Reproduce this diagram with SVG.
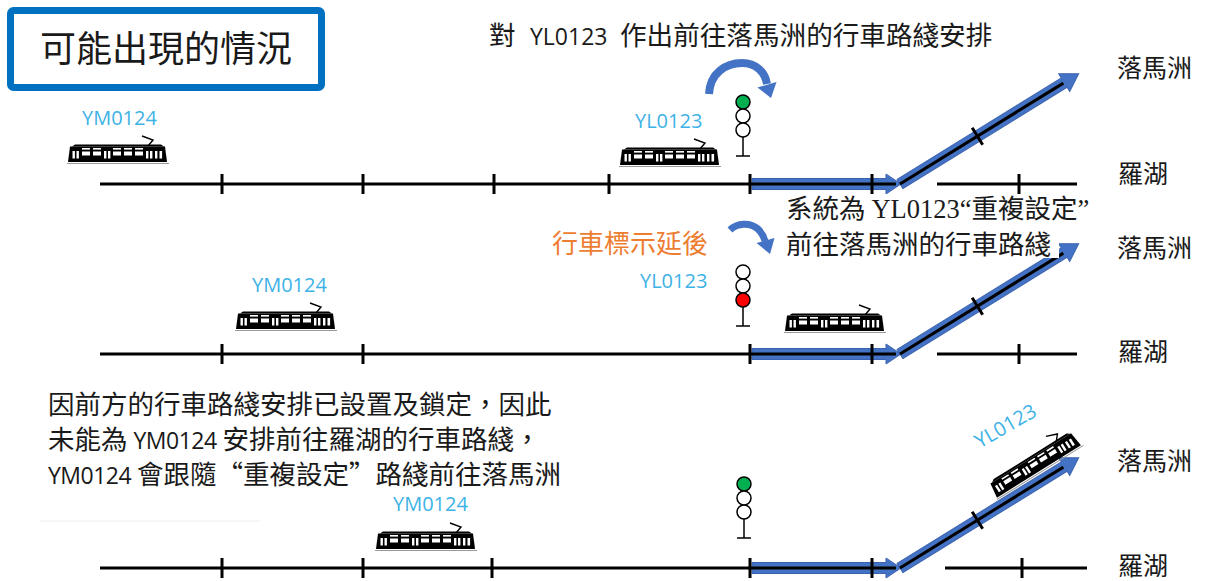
<svg xmlns="http://www.w3.org/2000/svg" width="1211" height="581" viewBox="0 0 1211 581">
<defs>
<style>
.cjk{font-family:"Noto Sans CJK TC","Noto Sans CJK SC",sans-serif;fill:#1a1a1a}
.lat{font-family:"Open Sans","Liberation Sans",sans-serif}
.ser{font-family:"Liberation Serif",serif}
.id{font-family:"Open Sans","Liberation Sans",sans-serif;font-size:20px;fill:#3DB2E6}
.place{font-family:"Noto Sans CJK TC","Noto Sans CJK SC",sans-serif;font-size:25px;fill:#1a1a1a}
.trk{stroke:#000;stroke-width:3;fill:none}
.route{fill:#4472C4;stroke:#3B64B0;stroke-width:1}
.bend{fill:#4472C4}
.sig circle{stroke:#000;stroke-width:1.5;fill:#fff}
.sig line{stroke:#000;stroke-width:1.5}
.win{fill:#fff}
</style>
<!-- tram silhouette, 102 x 30 -->
<g id="tram">
  <path d="M75,1 L86,5 L81,11" fill="none" stroke="#000" stroke-width="1.4"/>
  <path d="M8,9.5 H94 L97,11.5 H5 Z" fill="#000"/>
  <path d="M3,11.5 H98 L100,27 H1 Z" fill="#000"/>
  <g class="win">
    <!-- clerestory lights -->
    <rect x="15" y="13" width="8" height="1.6"/>
    <rect x="26" y="13" width="8" height="1.6"/>
    <rect x="46" y="13" width="8" height="1.6"/>
    <rect x="57" y="13" width="8" height="1.6"/>
    <rect x="68" y="13" width="8" height="1.6"/>
    <!-- doors and side windows -->
    <rect x="5.5" y="16" width="2.4" height="7.5"/>
    <rect x="9.5" y="16" width="2.4" height="7.5"/>
    <rect x="15" y="16.5" width="8" height="4"/>
    <rect x="26" y="16.5" width="8" height="4"/>
    <rect x="37" y="16" width="2.4" height="7.5"/>
    <rect x="41" y="16" width="2.4" height="7.5"/>
    <rect x="46" y="16.5" width="8" height="4"/>
    <rect x="57" y="16.5" width="8" height="4"/>
    <rect x="68" y="16.5" width="8" height="4"/>
    <rect x="79" y="16" width="2.4" height="7.5"/>
    <rect x="83" y="16" width="2.4" height="7.5"/>
    <rect x="88" y="16" width="2.4" height="7.5"/>
    <rect x="92.5" y="16" width="2.6" height="7.5"/>
  </g>
  <line x1="0" y1="28.5" x2="102" y2="28.5" stroke="#999" stroke-width="1"/>
</g>
<!-- set route: blue band along the straight and the turnout towards 落馬洲 -->
<g id="setRoute">
  <path class="route" d="M752,178.5 H886 V174 L901,184 L886,194 V189.5 H752 Z"/>
  <g transform="translate(900,184) rotate(-31.7)">
    <path class="route" d="M0,-5.5 H193 V-10.5 L210,0 L193,10.5 V5.5 H0 Z"/>
    <line class="trk" x1="0" y1="0" x2="192" y2="0"/>
    <line class="trk" x1="91" y1="-10" x2="91" y2="10"/>
  </g>
  <line class="trk" x1="750" y1="184" x2="896" y2="184"/>
  <line class="trk" x1="750" y1="174" x2="750" y2="194"/>
  <line class="trk" x1="872" y1="174" x2="872" y2="194"/>
</g>
</defs>

<rect width="1211" height="581" fill="#fff"/>

<!-- heading -->
<g id="title">
  <rect x="10.5" y="10.5" width="311" height="77" rx="3" fill="#fff" stroke="#0070C0" stroke-width="7"/>
  <text class="cjk" x="166" y="62" font-size="36" text-anchor="middle">可能出現的情況</text>
</g>

<g id="caption-top">
  <text class="cjk" x="489" y="45" font-size="26.6"><tspan>對</tspan><tspan class="lat" x="530" font-size="23">YL0123</tspan><tspan x="620">作出前往落馬洲的行車路綫安排</tspan></text>
</g>

<!-- tracks, set routes and turn arrows -->
<g id="connectors">
  <!-- row 1 -->
  <line class="trk" x1="100" y1="184" x2="750" y2="184"/>
  <g class="trk">
    <line x1="222" y1="174" x2="222" y2="194"/>
    <line x1="363" y1="174" x2="363" y2="194"/>
    <line x1="494" y1="174" x2="494" y2="194"/>
    <line x1="609" y1="174" x2="609" y2="194"/>
    <line x1="937" y1="184" x2="1077" y2="184"/>
    <line x1="1019" y1="174" x2="1019" y2="194"/>
  </g>
  <use href="#setRoute"/>

  <!-- row 2 -->
  <line class="trk" x1="100" y1="354" x2="750" y2="354"/>
  <g class="trk">
    <line x1="222" y1="344" x2="222" y2="364"/>
    <line x1="363" y1="344" x2="363" y2="364"/>
    <line x1="937" y1="354" x2="1077" y2="354"/>
    <line x1="1019" y1="344" x2="1019" y2="364"/>
  </g>
  <use href="#setRoute" y="170"/>

  <!-- row 3 -->
  <line class="trk" x1="100" y1="568" x2="750" y2="568"/>
  <g class="trk">
    <line x1="222" y1="558" x2="222" y2="578"/>
    <line x1="363" y1="558" x2="363" y2="578"/>
    <line x1="492" y1="558" x2="492" y2="578"/>
    <line x1="945" y1="568" x2="1087" y2="568"/>
    <line x1="1022" y1="558" x2="1022" y2="578"/>
  </g>
  <use href="#setRoute" y="384"/>

  <!-- turn arrows over the signals -->
  <g id="turn1">
    <path d="M709,94 C710,73 726,63 742,63 C756,63 765,72 767,84" fill="none" stroke="#4472C4" stroke-width="8"/>
    <path class="bend" d="M757.5,87.5 L776.5,82 L771,98 Z"/>
  </g>
  <g id="turn2">
    <path d="M730,230 C737,223 750,222 758,229 C762,233 764,237 765,241" fill="none" stroke="#4472C4" stroke-width="7"/>
    <path class="bend" d="M756.5,243 L774.5,238 L770,254 Z"/>
  </g>
</g>

<!-- signals -->
<g id="signal1" class="sig">
  <circle cx="743" cy="102" r="7" style="fill:#00B050"/>
  <circle cx="743" cy="116" r="7"/>
  <circle cx="743" cy="130" r="7"/>
  <line x1="743" y1="137" x2="743" y2="156"/>
  <line x1="736" y1="156" x2="750" y2="156"/>
</g>
<g id="signal2" class="sig">
  <circle cx="743" cy="272" r="7"/>
  <circle cx="743" cy="286" r="7"/>
  <circle cx="743" cy="300" r="7" style="fill:#FF0000"/>
  <line x1="743" y1="307" x2="743" y2="326"/>
  <line x1="736" y1="326" x2="750" y2="326"/>
</g>
<g id="signal3" class="sig">
  <circle cx="744" cy="484" r="7" style="fill:#00B050"/>
  <circle cx="744" cy="498" r="7"/>
  <circle cx="744" cy="512" r="7"/>
  <line x1="744" y1="519" x2="744" y2="538"/>
  <line x1="737" y1="538" x2="751" y2="538"/>
</g>

<!-- trams with their running numbers -->
<g id="tram-ym0124-1">
  <text class="id" x="82" y="125">YM0124</text>
  <use href="#tram" x="67" y="135"/>
</g>
<g id="tram-yl0123-1">
  <text class="id" x="635" y="128">YL0123</text>
  <use href="#tram" x="619" y="138"/>
</g>
<g id="tram-ym0124-2">
  <text class="id" x="252" y="292">YM0124</text>
  <use href="#tram" x="235" y="302"/>
</g>
<g id="tram-yl0123-2">
  <text class="id" x="640" y="288">YL0123</text>
  <use href="#tram" x="784" y="304"/>
</g>
<g id="tram-ym0124-3">
  <text class="id" x="393" y="511">YM0124</text>
  <use href="#tram" x="375" y="522"/>
</g>
<g id="tram-yl0123-3">
  <text class="id" transform="translate(1009,432) rotate(-30)" text-anchor="middle">YL0123</text>
  <use href="#tram" transform="translate(1033,461) rotate(-32) translate(-51,-15)"/>
</g>

<!-- destination names -->
<g id="places">
  <text class="place" x="1117" y="77">落馬洲</text>
  <text class="place" x="1118" y="183">羅湖</text>
  <text class="place" x="1117" y="257">落馬洲</text>
  <text class="place" x="1118" y="361">羅湖</text>
  <text class="place" x="1117" y="470">落馬洲</text>
  <text class="place" x="1118" y="575">羅湖</text>
</g>

<!-- notes -->
<g id="note-delay">
  <text class="cjk" x="552" y="253" font-size="26" style="fill:#ED7D31">行車標示延後</text>
</g>
<g id="note-repeat">
  <rect x="779" y="194" width="280" height="64" fill="#fff"/>
  <text class="cjk" x="786" y="218" font-size="26.5"><tspan>系統為 </tspan><tspan class="ser">YL0123“</tspan><tspan>重複設定</tspan><tspan class="ser">”</tspan></text>
  <text class="cjk" x="786" y="254" font-size="26.5">前往落馬洲的行車路綫</text>
</g>
<g id="note-locked">
  <line x1="40" y1="521" x2="260" y2="521" stroke="#eeeeee" stroke-width="1"/>
  <text class="cjk" x="48" y="414" font-size="26.5">因前方的行車路綫安排已設置及鎖定，因此</text>
  <text class="cjk" x="48" y="449" font-size="26.5"><tspan>未能為 </tspan><tspan class="lat" font-size="23" letter-spacing="-0.5">YM0124</tspan><tspan> 安排前往羅湖的行車路綫，</tspan></text>
  <text class="cjk" x="48" y="484" font-size="26.5"><tspan class="lat" font-size="23" letter-spacing="-0.5">YM0124</tspan><tspan> 會跟隨“重複設定”路綫前往落馬洲</tspan></text>
</g>
</svg>
